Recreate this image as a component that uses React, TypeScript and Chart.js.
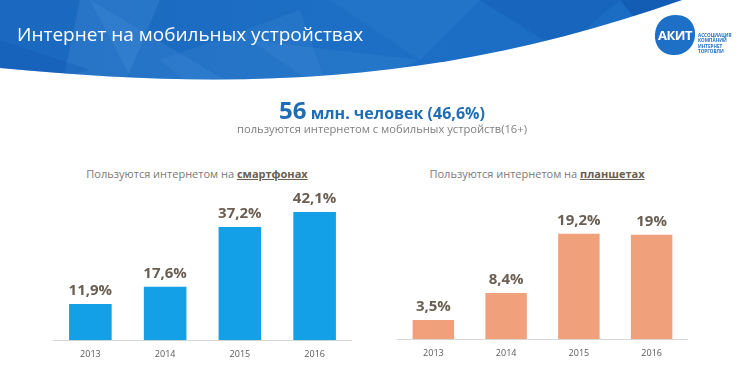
import React, { useEffect, useRef } from "react";
import { Chart, registerables } from "chart.js";

Chart.register(...registerables);

const years = ["2013", "2014", "2015", "2016"];
const smartphoneValues = [11.9, 17.6, 37.2, 42.1];
const smartphoneLabels = ["11,9%", "17,6%", "37,2%", "42,1%"];
const tabletValues = [3.5, 8.4, 19.2, 19.0];
const tabletLabels = ["3,5%", "8,4%", "19,2%", "19%"];

const FONT = "'Open Sans', 'Noto Sans', sans-serif";

type BarProps = {
  values: number[];
  valueLabels: string[];
  color: string;
  max: number;
  left: number;
  top: number;
  width: number;
  height: number;
  padTop: number;
};

function BarChart(p: BarProps) {
  const ref = useRef<HTMLCanvasElement | null>(null);
  useEffect(() => {
    if (!ref.current) return;
    const labelPlugin = {
      id: "valueLabels",
      afterDatasetsDraw(chart: any) {
        const ctx = chart.ctx;
        const meta = chart.getDatasetMeta(0);
        ctx.save();
        ctx.font = `bold 15px ${FONT}`;
        ctx.fillStyle = "#6b5e52";
        ctx.textAlign = "center";
        ctx.textBaseline = "middle";
        meta.data.forEach((el: any, i: number) => {
          ctx.fillText(p.valueLabels[i], el.x, el.y - 13);
        });
        ctx.restore();
      },
    };
    const chart = new Chart(ref.current, {
      type: "bar",
      data: {
        labels: years,
        datasets: [
          {
            data: p.values,
            backgroundColor: p.color,
            barPercentage: 0.57,
            categoryPercentage: 1,
          },
        ],
      },
      options: {
        animation: false,
        responsive: false,
        maintainAspectRatio: false,
        layout: { padding: { top: p.padTop, left: 0, right: 0, bottom: 0 } },
        plugins: { legend: { display: false }, tooltip: { enabled: false } },
        scales: {
          x: {
            grid: { display: false, drawTicks: false },
            border: { display: true, color: "#d9d9d9", width: 1 },
            ticks: {
              color: "#595959",
              font: { family: FONT, size: 9 },
              padding: 9,
            },
          },
          y: {
            display: false,
            min: 0,
            max: p.max,
          },
        },
      },
      plugins: [labelPlugin],
    });
    return () => chart.destroy();
  }, []);
  return (
    <canvas
      ref={ref}
      width={p.width}
      height={p.height}
      style={{
        position: "absolute",
        left: p.left,
        top: p.top,
        width: p.width,
        height: p.height,
      }}
    />
  );
}

function Header() {
  const ref = useRef<HTMLCanvasElement | null>(null);
  useEffect(() => {
    const c = ref.current;
    if (!c) return;
    const ctx = c.getContext("2d")!;
    ctx.clearRect(0, 0, 750, 95);
    ctx.save();
    ctx.beginPath();
    ctx.moveTo(0, 0);
    ctx.lineTo(682, 0);
    ctx.bezierCurveTo(450, 82, 250, 92, 0, 68);
    ctx.closePath();
    ctx.clip();
    const g = ctx.createLinearGradient(0, 0, 700, 0);
    g.addColorStop(0, "#1a68bf");
    g.addColorStop(0.5, "#1c6fc4");
    g.addColorStop(1, "#1a6cc2");
    ctx.fillStyle = g;
    ctx.fillRect(0, 0, 750, 95);
    const facet = (pts: number[][], col: string) => {
      ctx.beginPath();
      ctx.moveTo(pts[0][0], pts[0][1]);
      for (let i = 1; i < pts.length; i++) ctx.lineTo(pts[i][0], pts[i][1]);
      ctx.closePath();
      ctx.fillStyle = col;
      ctx.fill();
    };
    facet([[80, 0], [160, 0], [120, 95], [60, 95]], "rgba(80,150,225,0.25)");
    facet([[90, 0], [250, 95], [140, 95]], "rgba(90,160,230,0.18)");
    facet([[160, 60], [300, 10], [330, 95], [200, 95]], "rgba(70,140,220,0.22)");
    facet([[0, 40], [90, 70], [0, 95]], "rgba(20,90,180,0.35)");
    facet([[330, 0], [480, 0], [420, 60]], "rgba(60,140,220,0.2)");
    facet([[480, 0], [620, 0], [560, 50]], "rgba(10,80,170,0.25)");
    facet([[620, 0], [690, 0], [640, 25]], "rgba(10,70,160,0.4)");
    facet([[250, 40], [420, 60], [330, 95]], "rgba(90,160,230,0.15)");
    ctx.restore();
    ctx.save();
    ctx.fillStyle = "#1e6fc6";
    ctx.beginPath();
    ctx.moveTo(676, 15);
    ctx.bezierCurveTo(690, 15, 696, 26, 695, 36);
    ctx.bezierCurveTo(694, 48, 684, 56, 672, 55);
    ctx.bezierCurveTo(660, 54, 654, 44, 655, 34);
    ctx.bezierCurveTo(656, 22, 664, 15, 676, 15);
    ctx.closePath();
    ctx.fill();
    ctx.restore();
  }, []);
  return (
    <canvas
      ref={ref}
      width={750}
      height={95}
      style={{ position: "absolute", left: 0, top: 0, width: 750, height: 95 }}
    />
  );
}

export default function App() {
  const text = (style: React.CSSProperties, children: React.ReactNode) => (
    <div style={{ position: "absolute", whiteSpace: "nowrap", fontFamily: FONT, ...style }}>
      {children}
    </div>
  );
  return (
    <div
      style={{
        position: "fixed",
        left: 0,
        top: 0,
        width: 750,
        height: 377,
        background: "#ffffff",
        overflow: "hidden",
      }}
    >
      <Header />
      {text(
        { left: 17, top: 20, fontSize: 19, color: "#ffffff", lineHeight: "28px" },
        "Интернет на мобильных устройствах"
      )}
      {text(
        {
          left: 654,
          top: 27,
          width: 42,
          textAlign: "center",
          fontSize: 13,
          fontWeight: 700,
          color: "#ffffff",
          lineHeight: "16px",
          letterSpacing: -0.5,
        },
        "АКИТ"
      )}
      {text(
        {
          left: 698,
          top: 33,
          fontSize: 4.6,
          fontWeight: 700,
          color: "#1e6fc6",
          lineHeight: "5.4px",
        },
        <>
          АССОЦИАЦИЯ
          <br />
          КОМПАНИЙ
          <br />
          ИНТЕРНЕТ
          <br />
          ТОРГОВЛИ
        </>
      )}
      {text(
        {
          left: 0,
          width: 764,
          top: 96,
          textAlign: "center",
          color: "#1f6db5",
          fontWeight: 700,
          lineHeight: "28px",
        },
        <>
          <span style={{ fontSize: 24 }}>56</span>
          <span style={{ fontSize: 16 }}> млн. человек (46,6%)</span>
        </>
      )}
      {text(
        {
          left: 0,
          width: 764,
          top: 121,
          textAlign: "center",
          color: "#7f7f7f",
          fontSize: 11.2,
          lineHeight: "16px",
        },
        "пользуются интернетом с мобильных устройств(16+)"
      )}
      {text(
        {
          left: 47,
          width: 300,
          top: 166,
          textAlign: "center",
          color: "#7a7a7a",
          fontSize: 11,
          lineHeight: "16px",
        },
        <>
          Пользуются интернетом на{" "}
          <span style={{ fontWeight: 700, color: "#6b5e52", textDecoration: "underline" }}>
            смартфонах
          </span>
        </>
      )}
      {text(
        {
          left: 387,
          width: 300,
          top: 166,
          textAlign: "center",
          color: "#7a7a7a",
          fontSize: 11,
          lineHeight: "16px",
        },
        <>
          Пользуются интернетом на{" "}
          <span style={{ fontWeight: 700, color: "#6b5e52", textDecoration: "underline" }}>
            планшетах
          </span>
        </>
      )}
      <BarChart
        values={smartphoneValues}
        valueLabels={smartphoneLabels}
        color="#14a0e6"
        max={50}
        left={53}
        top={150}
        width={299}
        height={219}
        padTop={38}
      />
      <BarChart
        values={tabletValues}
        valueLabels={tabletLabels}
        color="#f0a07a"
        max={27.5}
        left={397}
        top={150}
        width={291}
        height={218}
        padTop={38}
      />
    </div>
  );
}
